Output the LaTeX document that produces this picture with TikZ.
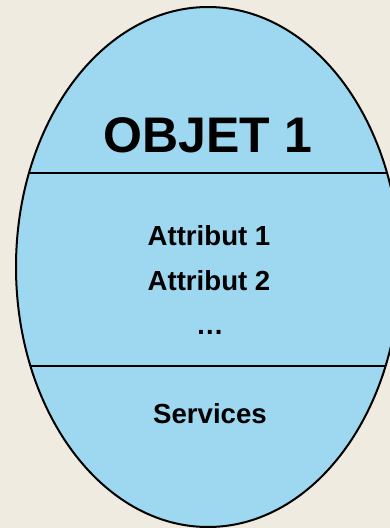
\documentclass[tikz,border=0pt]{standalone}
\usepackage{fontspec}
\setmainfont{Liberation Sans}
\usetikzlibrary{shapes.geometric}
\definecolor{paper}{RGB}{240,235,224}
\definecolor{objfill}{RGB}{157,215,240}
\tikzset{
  x=1pt, y=1pt,
  objshape/.style={ellipse, fill=objfill,
    minimum width=384pt, minimum height=520pt, inner sep=0pt, outer sep=0pt},
  outline/.style={draw=black, line width=2pt},
  divider/.style={draw=black, line width=2.8pt},
  title/.style={anchor=base, inner sep=0pt, font=\bfseries\fontsize{50}{50}\selectfont},
  member/.style={anchor=base, inner sep=0pt, font=\bfseries\fontsize{27.6}{27.6}\selectfont},
}
\begin{document}
\begin{tikzpicture}
  % page background and frame
  \fill[paper] (0,0) rectangle (390,-528);
  \useasboundingbox (0,0) rectangle (390,-528);
  \clip (0,0) rectangle (390,-528);

  % the object, drawn as an ellipse
  \node[objshape] (obj) at (208,-267) {};

  % compartments separating name, attributes and services
  \begin{scope}
    \clip (208,-267) ellipse [x radius=192, y radius=260];
    \coordinate (d1l) at (0,-173);
    \coordinate (d1r) at (400,-173);
    \coordinate (d2l) at (0,-366);
    \coordinate (d2r) at (400,-366);
    \draw[divider] (d1l) -- (d1r);
    \draw[divider] (d2l) -- (d2r);
  \end{scope}
  \draw[outline] (208,-267) ellipse [x radius=192, y radius=260];

  % labels
  \node[title]  (name)  at (208,-152) {OBJET 1};
  \node[member] (att1)  at (209,-245) {Attribut 1};
  \node[member] (att2)  at (209,-290) {Attribut 2};
  \node[member] (dots)  at (210,-334) {…};
  \node[member] (serv)  at (210,-423) {Services};
\end{tikzpicture}
\end{document}
